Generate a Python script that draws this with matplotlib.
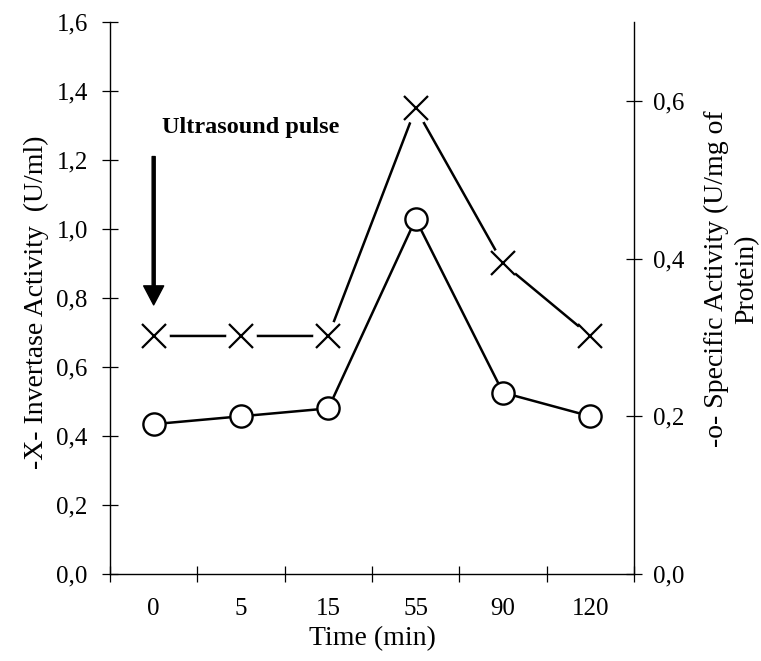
"""Invertase activity after an ultrasound pulse."""
import matplotlib
import numpy as np

matplotlib.use("Agg")
from matplotlib import pyplot as plt
from matplotlib.ticker import FuncFormatter

times = ["0", "5", "15", "55", "90", "120"]
invertase = [0.69, 0.69, 0.69, 1.35, 0.90, 0.69]
specific = [0.19, 0.20, 0.21, 0.45, 0.23, 0.20]
left_ticks = [0.0, 0.2, 0.4, 0.6, 0.8, 1.0, 1.2, 1.4, 1.6]
right_ticks = [0.0, 0.2, 0.4, 0.6]

plt.rcParams["font.family"] = ["Liberation Serif", "DejaVu Serif"]


def comma(value, _pos):
    return f"{value:.1f}".replace(".", ",")


fig = plt.figure(figsize=(7.61, 6.61), dpi=100)
ax = fig.add_axes([110 / 761, 87 / 661, 524 / 761, 552 / 661])
ax2 = ax.twinx()
x = np.arange(len(times))

# invertase (left axis): line broken around the X markers
ax.plot(x, invertase, color="black", linewidth=1.8, zorder=2)
ax.plot(x, invertase, linestyle="none", marker="o", markersize=22,
        markerfacecolor="white", markeredgewidth=0, zorder=3)
ax.plot(x, invertase, linestyle="none", marker="x", markersize=17,
        markeredgewidth=1.6, color="black", zorder=4)

# specific activity (right axis)
ax2.plot(x, specific, color="black", linewidth=1.8, marker="o", markersize=16,
         markerfacecolor="white", markeredgecolor="black", markeredgewidth=1.7)

ax.set_xlim(-0.5, len(times) - 0.5)
ax.set_ylim(0, 1.6)
ax2.set_ylim(0, 0.7)
ax.set_yticks(left_ticks)
ax2.set_yticks(right_ticks)
ax.yaxis.set_major_formatter(FuncFormatter(comma))
ax2.yaxis.set_major_formatter(FuncFormatter(comma))

ax.set_xticks(np.arange(-0.5, len(times), 1.0))
ax.set_xticklabels([])
ax.set_xticks(x, minor=True)
ax.set_xticklabels(times, minor=True)
ax.tick_params(axis="x", which="major", direction="inout", length=12, width=0.9)
ax.tick_params(axis="x", which="minor", length=0, pad=17, labelsize=18)
ax.tick_params(axis="y", direction="inout", length=12, width=0.9, pad=10, labelsize=18)
ax2.tick_params(axis="y", direction="inout", length=12, width=0.9, pad=8, labelsize=18)

for spine in ("top", "right"):
    ax.spines[spine].set_visible(False)
for spine in ("top", "left", "bottom"):
    ax2.spines[spine].set_visible(False)
for a in (ax, ax2):
    for spine in a.spines.values():
        spine.set_linewidth(1.0)

ax.set_xlabel("Time (min)", fontsize=20, labelpad=5)
fig.text(36 / 761, 0.543, "-X- Invertase Activity  (U/ml)", rotation=90,
         ha="center", va="center", fontsize=20)
fig.text(0.961, 0.578, "-o- Specific Activity (U/mg of\nProtein)", rotation=90,
         ha="center", va="center", multialignment="center", fontsize=20, linespacing=1.3)

ax.text(1.115, 1.293, "Ultrasound pulse", ha="center", va="center",
        fontsize=17.5, fontweight="bold")
ax.annotate("", xy=(0, 0.78), xytext=(0, 1.21),
            arrowprops=dict(arrowstyle="simple,head_width=14.4,head_length=13.7,tail_width=2.2",
                            mutation_scale=1, color="black", shrinkA=0, shrinkB=0))

fig.savefig("out.png", dpi=100)
